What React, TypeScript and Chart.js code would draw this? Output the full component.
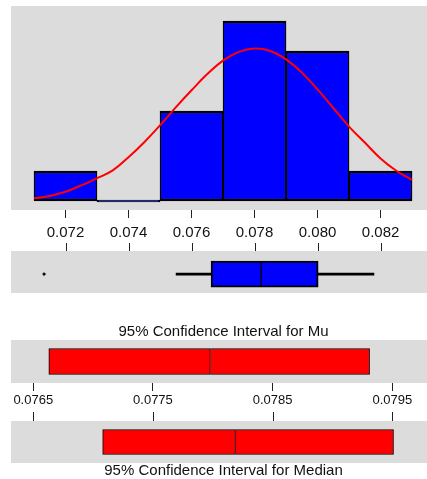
import React, { useEffect, useRef } from 'react';
import { Chart, registerables } from 'chart.js';

Chart.register(...registerables);

const FONT = '"Liberation Sans", Arial, Helvetica, sans-serif';
Chart.defaults.font.family = FONT;
Chart.defaults.color = '#111';

// ---------- Histogram ----------
const binCenters = [0.072, 0.074, 0.076, 0.078, 0.080, 0.082];
const binCounts = [1, 0, 3, 6, 5, 1];
const histTicks = [0.072, 0.074, 0.076, 0.078, 0.080, 0.082];
const curveX = [
  0.071, 0.0715, 0.072, 0.0725, 0.073, 0.0735, 0.074, 0.0745, 0.075, 0.0755, 0.076, 0.0765,
  0.077, 0.0775, 0.078, 0.0785, 0.079, 0.0795, 0.080, 0.0805, 0.081, 0.0815, 0.082, 0.0825, 0.083,
];
const curveY = [
  0.09, 0.17, 0.31, 0.52, 0.76, 1.02, 1.46, 1.96, 2.52, 3.12, 3.69, 4.23,
  4.68, 4.97, 5.08, 5.0, 4.72, 4.28, 3.72, 3.1, 2.48, 1.95, 1.42, 1.01, 0.7,
];
const histRange = [0.07027, 0.08376];

// ---------- Boxplot ----------
const boxQuartiles = [0.07662, 0.07821, 0.08002]; // Q1, median, Q3
const boxWhiskers = [0.07551, 0.08179]; // low, high
const boxOutliers = [0.07132];

// ---------- Confidence intervals ----------
const muCI = [0.07663, 0.07798, 0.07931]; // lower, mean, upper
const medianCI = [0.07708, 0.07819, 0.07951]; // lower, median, upper
const ciTicks = [0.0765, 0.0775, 0.0785, 0.0795];
const ciRange = [0.076314, 0.079865];
const muTitle = '95% Confidence Interval for Mu';
const medianTitle = '95% Confidence Interval for Median';

const GREY = '#dcdcdc';

const panelBg = {
  id: 'panelBg',
  beforeDraw(chart: any) {
    const { ctx, chartArea: a } = chart;
    ctx.save();
    ctx.fillStyle = GREY;
    ctx.fillRect(a.left, a.top, a.right - a.left, a.bottom - a.top);
    ctx.restore();
  },
};

// Extra unlabeled tick marks at the x scale's own tick positions.
// mode 'below': drawn below the labelled axis, from (axis top + from) to (axis top + to).
// mode 'above': drawn just above the chart area, length px tall.
function makeTickRow(scaleId: string, mode: 'below' | 'above', a: number, b: number) {
  return {
    id: 'tickRow',
    afterDraw(chart: any) {
      const s = chart.scales[scaleId];
      if (!s) return;
      const { ctx, chartArea } = chart;
      let y1: number;
      let y2: number;
      if (mode === 'below') {
        y1 = s.top + a;
        y2 = s.top + b;
      } else {
        y1 = chartArea.top - a;
        y2 = chartArea.top;
      }
      ctx.save();
      ctx.strokeStyle = '#222';
      ctx.lineWidth = 1;
      ctx.beginPath();
      for (let i = 0; i < s.ticks.length; i++) {
        const x = Math.round(s.getPixelForTick(i)) + 0.5;
        ctx.moveTo(x, y1);
        ctx.lineTo(x, y2);
      }
      ctx.stroke();
      ctx.restore();
    },
  };
}

const noPlugins = { legend: { display: false }, tooltip: { enabled: false } };

function xScale(
  range: number[],
  ticks: number[],
  height: number,
  fontSize: number,
  pad: number,
  decimals: number
) {
  return {
    type: 'linear',
    position: 'bottom',
    offset: false,
    min: range[0],
    max: range[1],
    afterBuildTicks: (s: any) => {
      s.ticks = ticks.map((v) => ({ value: v }));
    },
    afterFit: (s: any) => {
      s.height = height;
    },
    grid: {
      display: true,
      offset: false,
      drawOnChartArea: false,
      drawTicks: true,
      tickLength: 8,
      color: '#222',
      tickColor: '#222',
      lineWidth: 1,
      tickWidth: 1,
    },
    border: { display: false },
    ticks: {
      display: true,
      font: { size: fontSize, family: FONT },
      color: '#111',
      padding: pad,
      maxRotation: 0,
      minRotation: 0,
      autoSkip: false,
      callback: (v: any) => Number(v).toFixed(decimals),
    },
  };
}

function hiddenX(range: number[], ticks: number[]) {
  return {
    type: 'linear',
    display: false,
    offset: false,
    min: range[0],
    max: range[1],
    grid: { offset: false },
    afterBuildTicks: (s: any) => {
      s.ticks = ticks.map((v) => ({ value: v }));
    },
  };
}

function hiddenY(min: number, max: number) {
  return { type: 'linear', display: false, offset: false, min, max, grid: { offset: false } };
}

const baseOptions = {
  animation: false,
  responsive: false,
  maintainAspectRatio: false,
};

function histConfig(): any {
  return {
    type: 'bar',
    data: {
      datasets: [
        {
          type: 'line',
          order: 0,
          data: curveX.map((x, i) => ({ x, y: curveY[i] })),
          borderColor: '#ff0000',
          borderWidth: 2,
          pointRadius: 0,
          pointHoverRadius: 0,
          tension: 0.4,
          fill: false,
        },
        {
          type: 'bar',
          order: 1,
          data: binCenters.map((x, i) => ({ x, y: binCounts[i] })),
          backgroundColor: '#0000ff',
          borderColor: '#000',
          borderWidth: { top: 2.5, bottom: 2.5, left: 1.5, right: 1.5 },
          borderSkipped: false,
          barPercentage: 1,
          categoryPercentage: 1,
          minBarLength: 2,
        },
      ],
    },
    options: {
      ...baseOptions,
      layout: { autoPadding: false, padding: { left: 11, top: 6, right: 0, bottom: 0 } },
      plugins: noPlugins,
      scales: {
        x: xScale(histRange, histTicks, 50, 15, 6, 3),
        y: hiddenY(-0.3, 6.5),
      },
    },
    plugins: [panelBg, makeTickRow('x', 'below', 33, 41)],
  };
}

function boxConfig(): any {
  return {
    type: 'bar',
    data: {
      datasets: [
        {
          data: [{ x: [boxWhiskers[0], boxQuartiles[0]], y: 0 }],
          backgroundColor: '#000',
          borderWidth: 0,
          barThickness: 2,
        },
        {
          data: [{ x: [boxQuartiles[2], boxWhiskers[1]], y: 0 }],
          backgroundColor: '#000',
          borderWidth: 0,
          barThickness: 2,
        },
        {
          data: [{ x: [boxQuartiles[0], boxQuartiles[1]], y: 0 }],
          backgroundColor: '#0000ff',
          borderColor: '#000',
          borderWidth: { left: 2, top: 2, bottom: 2, right: 1 },
          borderSkipped: false,
          barThickness: 26,
        },
        {
          data: [{ x: [boxQuartiles[1], boxQuartiles[2]], y: 0 }],
          backgroundColor: '#0000ff',
          borderColor: '#000',
          borderWidth: { left: 1, top: 2, bottom: 2, right: 2 },
          borderSkipped: false,
          barThickness: 26,
        },
        {
          type: 'scatter',
          data: boxOutliers.map((x) => ({ x, y: 0 })),
          pointRadius: 1.6,
          pointHoverRadius: 1.6,
          pointStyle: 'rectRot',
          backgroundColor: '#000',
          borderColor: '#000',
          borderWidth: 0.5,
        },
      ],
    },
    options: {
      ...baseOptions,
      indexAxis: 'y',
      grouped: false,
      layout: { autoPadding: false, padding: { left: 11, top: 15, right: 0, bottom: 0 } },
      plugins: noPlugins,
      scales: {
        x: hiddenX(histRange, histTicks),
        y: hiddenY(-0.9, 1.1),
      },
    },
    plugins: [panelBg, makeTickRow('x', 'above', 8, 0)],
  };
}

function ciConfig(
  ci: number[],
  thickness: number,
  withAxis: boolean,
  title: string,
  titlePos: 'top' | 'bottom',
  titlePad: { top: number; bottom: number },
  padTop: number
): any {
  const scales: any = withAxis
    ? { x: xScale(ciRange, ciTicks, 47, 13, 2, 4), y: hiddenY(-1, 1) }
    : { x: hiddenX(ciRange, ciTicks), y: hiddenY(-1, 1) };
  return {
    type: 'bar',
    data: {
      datasets: [
        {
          data: [{ x: [ci[0], ci[1]], y: 0 }],
          backgroundColor: '#ff0000',
          borderColor: '#000',
          borderWidth: { left: 1, top: 1, bottom: 1, right: 1 },
          borderSkipped: false,
          barThickness: thickness,
        },
        {
          data: [{ x: [ci[1], ci[2]], y: 0 }],
          backgroundColor: '#ff0000',
          borderColor: '#000',
          borderWidth: { left: 0, top: 1, bottom: 1, right: 1 },
          borderSkipped: false,
          barThickness: thickness,
        },
      ],
    },
    options: {
      ...baseOptions,
      indexAxis: 'y',
      grouped: false,
      layout: { autoPadding: false, padding: { left: 11, top: padTop, right: 0, bottom: 0 } },
      plugins: {
        ...noPlugins,
        title: {
          display: true,
          text: title,
          position: titlePos,
          color: '#111',
          font: { size: 15, weight: 'normal', family: FONT, lineHeight: 1 },
          padding: titlePad,
        },
      },
      scales,
    },
    plugins: withAxis
      ? [panelBg, makeTickRow('x', 'below', 29, 38)]
      : [panelBg, makeTickRow('x', 'above', 9, 0)],
  };
}

function ChartBox({
  top,
  width,
  height,
  make,
}: {
  top: number;
  width: number;
  height: number;
  make: () => any;
}) {
  const ref = useRef<HTMLCanvasElement>(null);
  useEffect(() => {
    const chart = new Chart(ref.current as HTMLCanvasElement, make());
    return () => chart.destroy();
  }, []);
  return (
    <div style={{ position: 'absolute', left: 0, top, width, height }}>
      <canvas ref={ref} width={width} height={height} style={{ display: 'block', width, height }} />
    </div>
  );
}

export default function App() {
  return (
    <div
      style={{
        position: 'absolute',
        left: 0,
        top: 0,
        width: 427,
        height: 479,
        overflow: 'hidden',
        background: '#fff',
      }}
    >
      <ChartBox top={0} width={436} height={260} make={histConfig} />
      <ChartBox top={236} width={436} height={57} make={boxConfig} />
      <ChartBox
        top={324}
        width={436}
        height={106}
        make={() => ciConfig(muCI, 26, true, muTitle, 'top', { top: 0.5, bottom: 0.5 }, 0)}
      />
      <ChartBox
        top={405}
        width={436}
        height={74}
        make={() => ciConfig(medianCI, 25, false, medianTitle, 'bottom', { top: 0, bottom: 1 }, 16)}
      />
    </div>
  );
}
